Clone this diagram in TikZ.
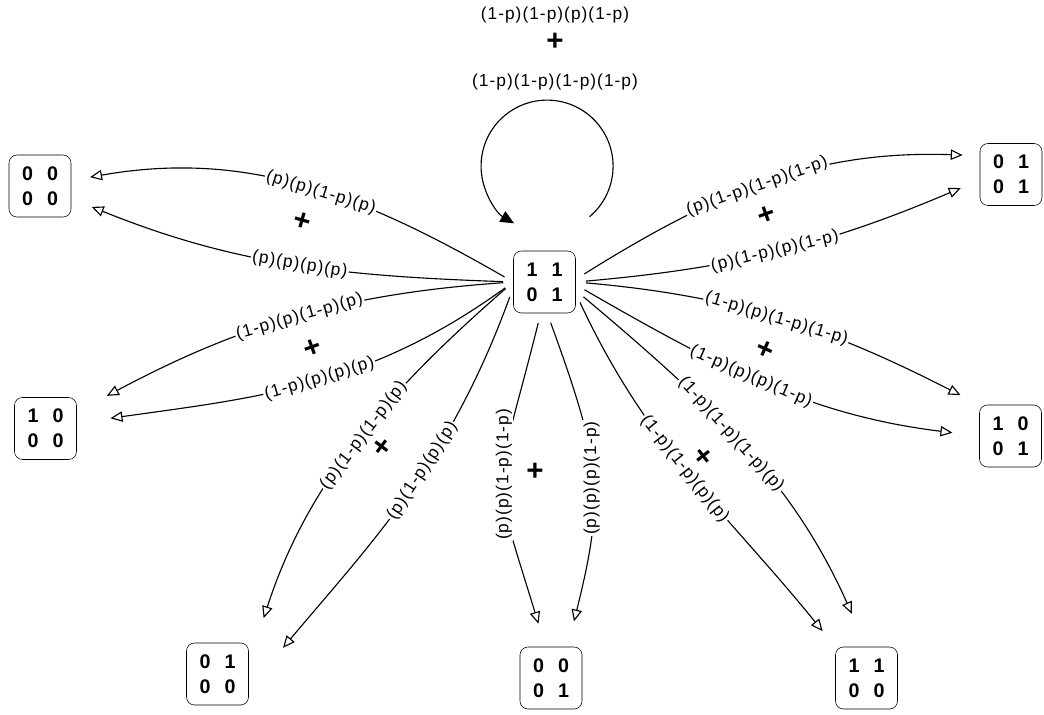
\documentclass[tikz,border=0pt]{standalone}
\usepackage{fontspec}
\setmainfont{Liberation Sans}
\newfontfamily\lblfont[LetterSpace=6]{Liberation Sans}
\usetikzlibrary{arrows.meta,positioning}

\begin{document}
\begin{tikzpicture}[
    x=0.025cm, y=-0.025cm,
    >={Triangle[open,length=3mm,width=2.6mm]},
    cell/.style={draw, rounded corners=2mm, minimum width=1.55cm, minimum height=1.55cm, align=center, inner sep=0pt, font=\bfseries\fontsize{14}{17.8}\selectfont},
    flow/.style={->, line width=0.8pt, shorten <=2.5mm},
    lbl/.style={fill=white, inner sep=1pt, font={\lblfont\fontsize{12.3}{14}\selectfont}},
    prob/.style={lbl, sloped},
    plus/.style={inner sep=0pt, font=\bfseries\fontsize{21}{21}\selectfont}
  ]
    \useasboundingbox (0,0) rectangle (1044,715);

    % states
    \node[cell] (c)  at (544.5,282) {1\hspace{10pt}1\\0\hspace{10pt}1};
    \node[cell] (tl) at (40,186)    {0\hspace{10pt}0\\0\hspace{10pt}0};
    \node[cell] (tr) at (1011,174.5) {0\hspace{10pt}1\\0\hspace{10pt}1};
    \node[cell] (ml) at (45.5,428.5) {1\hspace{10pt}0\\0\hspace{10pt}0};
    \node[cell] (mr) at (1010.5,436) {1\hspace{10pt}0\\0\hspace{10pt}1};
    \node[cell] (bl) at (217.5,674) {0\hspace{10pt}1\\0\hspace{10pt}0};
    \node[cell] (bc) at (551,678)   {0\hspace{10pt}0\\0\hspace{10pt}1};
    \node[cell] (br) at (866.5,678) {1\hspace{10pt}1\\0\hspace{10pt}0};

    % self loop
    \node[lbl] (top1) at (555,15) {(1-p)(1-p)(p)(1-p)};
    \node[plus] (toppl) at (555,42) {+};
    \node[lbl] (top2) at (555,82) {(1-p)(1-p)(1-p)(1-p)};
    \coordinate (loopstart) at ([shift={(45,-34)}]c.north);
    \draw[line width=0.8pt, -{Triangle[length=3.4mm,width=3mm]}] (loopstart) arc[start angle=-50, end angle=240, radius=1.65cm];

    % left
    \draw[flow, shorten >=4.75mm] (c.west) to[out=150, in=10] node[prob, pos=0.45]{(p)(p)(1-p)(p)} (tl.10);
    \draw[flow, shorten >=5.5mm] (c.west) to[out=178, in=-22] node[prob, pos=0.47]{(p)(p)(p)(p)} (tl.-22);
    \draw[flow, shorten >=8.5mm] (c.west) to[out=184, in=28] node[prob, pos=0.47]{(1-p)(p)(1-p)(p)} (ml.28);
    \draw[flow, shorten >=8.5mm] (c.west) to[out=216, in=8] node[prob, pos=0.47]{(1-p)(p)(p)(p)} (ml.10);
    \draw[flow, shorten >=12mm] (c.west) to[out=221, in=72] node[prob, pos=0.45]{(p)(1-p)(1-p)(p)} (bl.18);
    \draw[flow, shorten >=13.3mm] (c.190) to[out=250, in=50] node[prob, pos=0.42]{(p)(1-p)(p)(p)} (bl.-25);

    % bottom
    \draw[flow, shorten >=6mm] (c.-97) to[out=256, in=107, looseness=1.5] node[lbl, pos=0.47, rotate=90]{(p)(p)(1-p)(1-p)} (bc.100);
    \draw[flow, shorten >=6.5mm] (c.-85) to[out=-70, in=76, looseness=1.2] node[lbl, pos=0.5, rotate=90]{(p)(p)(p)(1-p)} (bc.62);
    \draw[flow, shorten >=5mm] (c.-20) to[out=-65, in=129] node[prob, pos=0.47]{(1-p)(1-p)(p)(p)} (br.north west);
    \draw[flow, shorten >=9mm] (c.-15) to[out=-40, in=114] node[prob, pos=0.45]{(1-p)(1-p)(1-p)(p)} (br.north);

    % right
    \draw[flow, shorten >=6.75mm] (c.-5) to[out=-30, in=173] node[prob, pos=0.45]{(1-p)(p)(p)(1-p)} (mr.west);
    \draw[flow, shorten >=5.25mm] (c.east) to[out=-5, in=153] node[prob, pos=0.48]{(1-p)(p)(1-p)(1-p)} (mr.north west);
    \draw[flow, shorten >=5.15mm] (c.east) to[out=5, in=203] node[prob, pos=0.48]{(p)(1-p)(p)(1-p)} (tr.190);
    \draw[flow, shorten >=4.25mm] (c.5) to[out=32, in=178] node[prob, pos=0.47]{(p)(1-p)(1-p)(1-p)} (tr.149);

    % sums
    \node[plus, rotate=-16] (ptl) at (302,222) {+};
    \node[plus, rotate=20]  (pml) at (313,348) {+};
    \node[plus, rotate=53]  (pbl) at (383,447) {+};
    \node[plus]             (pbc) at (535,472) {+};
    \node[plus, rotate=-52] (pbr) at (703,457) {+};
    \node[plus, rotate=-24] (pmr) at (765,350) {+};
    \node[plus, rotate=20]  (ptr) at (767,215) {+};
\end{tikzpicture}
\end{document}
